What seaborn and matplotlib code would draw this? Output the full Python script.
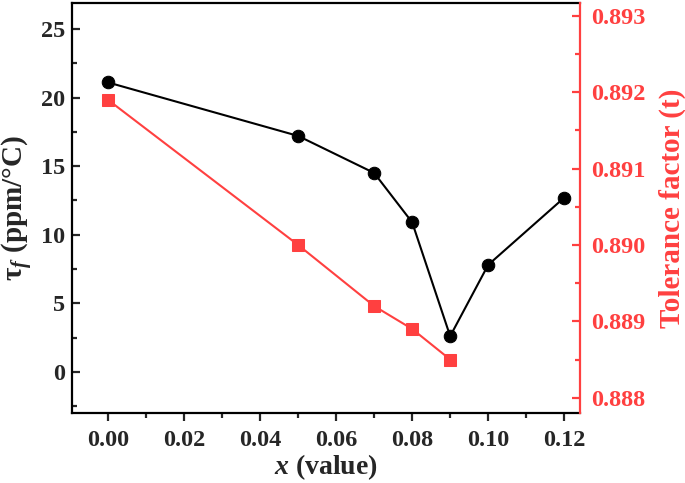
import matplotlib
matplotlib.use("Agg")
import matplotlib.pyplot as plt
import seaborn as sns
import pandas as pd
from matplotlib.ticker import MultipleLocator

sns.set_style("ticks")
plt.rcParams['font.family'] = ['Liberation Serif', 'DejaVu Serif']
plt.rcParams['font.weight'] = 'bold'
plt.rcParams['mathtext.fontset'] = 'custom'
plt.rcParams['mathtext.it'] = 'Liberation Serif:italic:bold'
plt.rcParams['mathtext.rm'] = 'Liberation Serif:bold'
plt.rcParams['mathtext.bf'] = 'Liberation Serif:bold'

x_tau = [0.00, 0.05, 0.07, 0.08, 0.09, 0.10, 0.12]
tau_f = [21.1, 17.2, 14.5, 10.9, 2.6, 7.8, 12.7]
x_t = [0.00, 0.05, 0.07, 0.08, 0.09]
tol_t = [0.8919, 0.8900, 0.8892, 0.8889, 0.8885]

RED = '#FF4040'

df1 = pd.DataFrame({'x': x_tau, 'y': tau_f})
df2 = pd.DataFrame({'x': x_t, 'y': tol_t})

fig = plt.figure(figsize=(6.85, 4.83), dpi=100)
ax = fig.add_axes([0.105, 0.145, 0.742, 0.849])
ax2 = ax.twinx()

sns.lineplot(data=df1, x='x', y='y', ax=ax, color='black', marker='o',
             markersize=9, linewidth=1.5, markeredgecolor='black')
sns.lineplot(data=df2, x='x', y='y', ax=ax2, color=RED, marker='s',
             markersize=8.5, linewidth=1.5, markeredgecolor=RED)

ax.set_xlim(-0.0095, 0.1242)
ax.set_ylim(-3.0, 26.9)
ax2.set_ylim(0.88780, 0.89317)

ax.xaxis.set_major_locator(MultipleLocator(0.02))
ax.xaxis.set_minor_locator(MultipleLocator(0.01))
ax.yaxis.set_major_locator(MultipleLocator(5))
ax.yaxis.set_minor_locator(MultipleLocator(2.5))
ax2.yaxis.set_major_locator(MultipleLocator(0.001))
ax2.yaxis.set_minor_locator(MultipleLocator(0.0005))

ax.set_xticks([0.00, 0.02, 0.04, 0.06, 0.08, 0.10, 0.12])
ax.set_xticklabels(['0.00', '0.02', '0.04', '0.06', '0.08', '0.10', '0.12'])
ax2.set_yticks([0.888, 0.889, 0.890, 0.891, 0.892, 0.893])
ax2.set_yticklabels(['0.888', '0.889', '0.890', '0.891', '0.892', '0.893'])

for sp in ['left', 'bottom', 'top']:
    ax.spines[sp].set_linewidth(1.6)
    ax.spines[sp].set_color('black')
ax.spines['right'].set_visible(False)
for sp in ['left', 'bottom', 'top']:
    ax2.spines[sp].set_visible(False)
ax2.spines['right'].set_color(RED)
ax2.spines['right'].set_linewidth(1.6)

ax.tick_params(axis='x', which='major', direction='out', length=6, width=1.6, labelsize=17.5, pad=6)
ax.tick_params(axis='x', which='minor', direction='out', length=3.5, width=1.6)
ax.tick_params(axis='y', which='major', direction='in', length=6, width=1.6, labelsize=17.5, pad=5)
ax.tick_params(axis='y', which='minor', direction='in', length=3.5, width=1.6)
ax2.tick_params(axis='y', which='major', direction='in', length=6, width=1.6, labelsize=17.5,
                colors=RED, pad=8)
ax2.tick_params(axis='y', which='minor', direction='in', length=3.5, width=1.6, colors=RED)

for lbl in ax.get_xticklabels() + ax.get_yticklabels() + ax2.get_yticklabels():
    lbl.set_fontweight('bold')

ax.set_xlabel('$x$ (value)', fontsize=20, fontweight='bold', labelpad=1)
ax.set_ylabel('τ$_f$ (ppm/°C)', fontsize=21, fontweight='bold', labelpad=4)
ax2.set_ylabel('Tolerance factor (t)', fontsize=21, fontweight='bold', color=RED, labelpad=9)

fig.savefig('out.png', dpi=100)
